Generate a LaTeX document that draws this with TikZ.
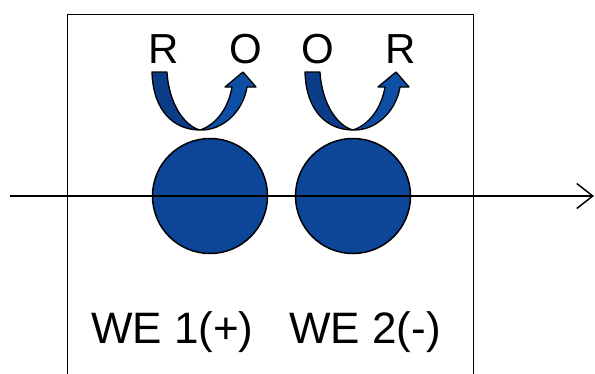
\documentclass[tikz,border=0pt]{standalone}
\usepackage{fontspec}
\setmainfont{Liberation Sans}
\usetikzlibrary{arrows.meta}
\definecolor{diskblue}{RGB}{13,70,152}
\definecolor{leftblue}{RGB}{11,60,135}
\definecolor{rightblue}{RGB}{14,78,164}
\tikzset{
  disk/.style={circle,draw=black,line width=1.5pt,fill=diskblue,minimum size=115pt,inner sep=0pt},
  lbl/.style={anchor=base,inner sep=0pt,font=\fontsize{42}{42}\selectfont},
  welbl/.style={anchor=base,inner sep=0pt,font=\fontsize{44}{44}\selectfont},
  frame/.style={draw=black,line width=1.5pt},
  axis/.style={draw=black,line width=1.5pt,-{Straight Barb[length=16pt,width=25pt,line width=1.5pt]}},
  uarrow/.pic={
    \draw[fill=leftblue,line width=1.3pt,line join=round]
      (-48,-58) .. controls (-47,-18) and (-25,0) .. (0,0)
      .. controls (-15,-4) and (-31,-25) .. (-33,-58) -- cycle;
    \draw[fill=rightblue,line width=1.3pt,line join=round]
      (0,0) .. controls (22,1) and (43,-18) .. (47,-43)
      -- (56,-43) -- (43,-58) -- (25,-43) -- (32,-43)
      .. controls (28,-20) and (15,-5) .. (0,0) -- cycle;
  }
}
\begin{document}
\begin{tikzpicture}[x=1pt,y=-1pt]
\useasboundingbox (0,0) rectangle (595,373);
% frame open at the bottom
\coordinate (fbl) at (67.5,374);
\coordinate (ftl) at (67.5,14.5);
\coordinate (ftr) at (473.5,14.5);
\coordinate (fbr) at (473.5,374);
\draw[frame] (fbl) -- (ftl) -- (ftr) -- (fbr);
% electrodes
\node[disk] (c1) at (210,196) {};
\node[disk] (c2) at (353,196) {};
% axis
\coordinate (axs) at (9.5,196);
\coordinate (axe) at (594,196);
\draw[axis] (axs) -- (axe);
% redox arrows
\pic at (200,130) {uarrow};
\pic at (353,130) {uarrow};
% labels
\node[lbl] (r1) at (163.3,63.3) {R};
\node[lbl] (o1) at (245.8,63.3) {O};
\node[lbl] (o2) at (317.5,63.3) {O};
\node[lbl] (r2) at (400.7,63.3) {R};
\node[welbl] (we1) at (172.3,343.3) {WE 1(+)};
\node[welbl] (we2) at (365,343.3) {WE 2(-)};
\end{tikzpicture}
\end{document}
